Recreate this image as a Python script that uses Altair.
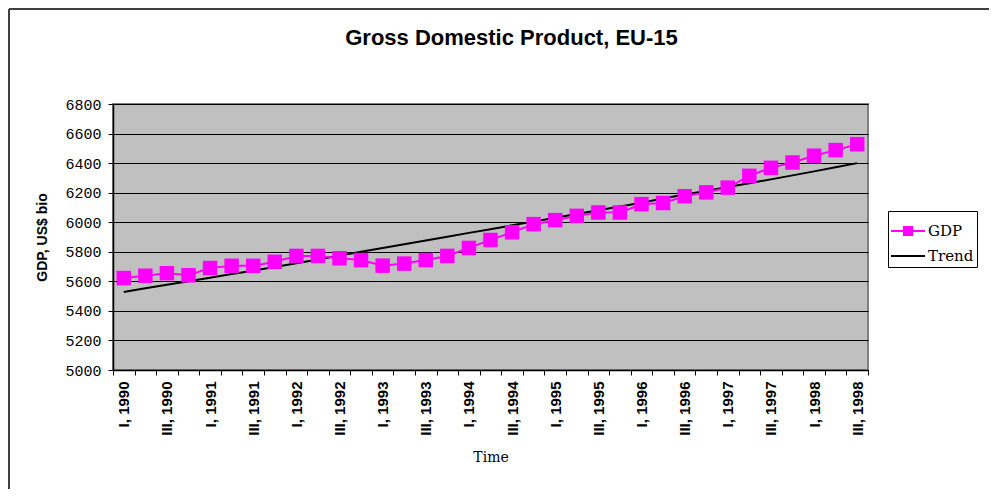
import altair as alt
import pandas as pd

quarters = [
    "I, 1990", "II, 1990", "III, 1990", "IV, 1990",
    "I, 1991", "II, 1991", "III, 1991", "IV, 1991",
    "I, 1992", "II, 1992", "III, 1992", "IV, 1992",
    "I, 1993", "II, 1993", "III, 1993", "IV, 1993",
    "I, 1994", "II, 1994", "III, 1994", "IV, 1994",
    "I, 1995", "II, 1995", "III, 1995", "IV, 1995",
    "I, 1996", "II, 1996", "III, 1996", "IV, 1996",
    "I, 1997", "II, 1997", "III, 1997", "IV, 1997",
    "I, 1998", "II, 1998", "III, 1998",
]
gdp = [
    5622, 5638, 5655, 5641, 5690, 5705, 5705, 5732, 5772, 5772,
    5756, 5744, 5706, 5720, 5744, 5772, 5826, 5880, 5932, 5987,
    6014, 6043, 6066, 6066, 6122, 6130, 6176, 6202, 6234, 6314,
    6368, 6404, 6450, 6488, 6528,
]
trend = [
    5528, 5553, 5577, 5601, 5625, 5649, 5672, 5697, 5722, 5748,
    5774, 5800, 5826, 5851, 5876, 5902, 5928, 5953, 5979, 6004,
    6030, 6056, 6081, 6107, 6132, 6160, 6187, 6212, 6238, 6264,
    6290, 6317, 6344, 6372, 6400,
]
series_names = ["GDP", "Trend"]
series_colors = ["#FF00FF", "#000000"]
legend_shapes = [
    "M-1,-0.06H1V0.06H-1Z M-0.3,-0.3H0.3V0.3H-0.3Z",
    "M-1,-0.06H1V0.06H-1Z",
]
y_ticks = [5000, 5200, 5400, 5600, 5800, 6000, 6200, 6400, 6600, 6800]

rows = []
for q, g, t in zip(quarters, gdp, trend):
    rows.append({"Quarter": q, "Series": "GDP", "Value": g})
    rows.append({"Quarter": q, "Series": "Trend", "Value": t})
df = pd.DataFrame(rows)

label_expr = ("(indexof(datum.label, 'II,') == 0 || indexof(datum.label, 'IV,') == 0)"
              " ? '' : datum.label")

x_enc = alt.X(
    "Quarter:N",
    sort=quarters,
    scale=alt.Scale(type="band", paddingInner=0, paddingOuter=0),
    axis=alt.Axis(
        title="Time", labelAngle=270, labelExpr=label_expr, labelOverlap=False,
        tickBand="extent", labelFont="Liberation Sans", labelFontWeight="bold",
        labelFontSize=15, labelColor="black", labelPadding=6, tickSize=5,
        tickColor="black", domainColor="black", domainWidth=1.5,
        titleFont="DejaVu Serif", titleFontSize=14, titleFontWeight="normal",
        titlePadding=15, titleColor="black", grid=False,
    ),
)
y_enc = alt.Y(
    "Value:Q",
    scale=alt.Scale(domain=[5000, 6800], nice=False, zero=False),
    axis=alt.Axis(
        values=y_ticks, title="GDP, US$ bio", format="d",
        labelFont="Liberation Mono", labelFontSize=15, labelColor="black",
        labelPadding=7, tickSize=5, tickColor="black",
        domainColor="black", domainWidth=1.5,
        grid=True, gridColor="black", gridWidth=1.2,
        titleFont="Liberation Sans", titleFontSize=14, titleFontWeight="bold",
        titleColor="black", titleX=-64, titleY=133,
    ),
)

base = alt.Chart(df)

gdp_line = base.transform_filter(alt.datum.Series == "GDP").mark_line(
    color="#FF00FF", strokeWidth=2
).encode(x=x_enc, y=y_enc)

gdp_pts = base.transform_filter(alt.datum.Series == "GDP").mark_point(
    shape="square", filled=True, color="#FF00FF", size=210, opacity=1
).encode(x=x_enc, y=y_enc)

trend_line = base.transform_filter(alt.datum.Series == "Trend").mark_line(
    color="#000000", strokeWidth=2
).encode(x=x_enc, y=y_enc)

legend_props = dict(
    title=None, orient="none", legendX=775, legendY=107,
    strokeColor="black", fillColor="white", padding=3,
    symbolSize=1156, symbolStrokeWidth=0, symbolOpacity=1,
    labelFont="DejaVu Serif", labelFontSize=15, labelColor="black",
    labelOffset=3, rowPadding=0,
)

legend_layer = base.transform_filter("false").mark_point(filled=True).encode(
    x=x_enc, y=y_enc,
    color=alt.Color(
        "Series:N",
        scale=alt.Scale(domain=series_names, range=series_colors),
        legend=alt.Legend(**legend_props),
    ),
    shape=alt.Shape(
        "Series:N",
        scale=alt.Scale(domain=series_names, range=legend_shapes),
        legend=alt.Legend(**legend_props),
    ),
)

border_data = alt.Data(values=[{"k": 1}])
border_top = alt.Chart(border_data).mark_rule(color="#404040", strokeWidth=2).encode(
    x=alt.value(-104), x2=alt.value(880), y=alt.value(-95)
)
border_left = alt.Chart(border_data).mark_rule(color="#404040", strokeWidth=2).encode(
    x=alt.value(-104), y=alt.value(-95), y2=alt.value(400)
)

chart = alt.layer(
    trend_line, gdp_line, gdp_pts, legend_layer, border_top, border_left
).properties(
    width=755,
    height=266,
    title=alt.Title(
        "Gross Domestic Product, EU-15", font="Liberation Sans", fontSize=22,
        fontWeight="bold", color="black", anchor="middle", dx=21,
        baseline="alphabetic", offset=0, dy=59,
    ),
    autosize=alt.AutoSizeParams(type="none"),
    padding={"left": 105, "top": 96, "right": 121, "bottom": 119},
    background="white",
).configure_view(
    stroke="#808080", strokeWidth=2, fill="#C0C0C0"
)

chart.save("out.html", embed_options={"renderer": "svg", "actions": False})
